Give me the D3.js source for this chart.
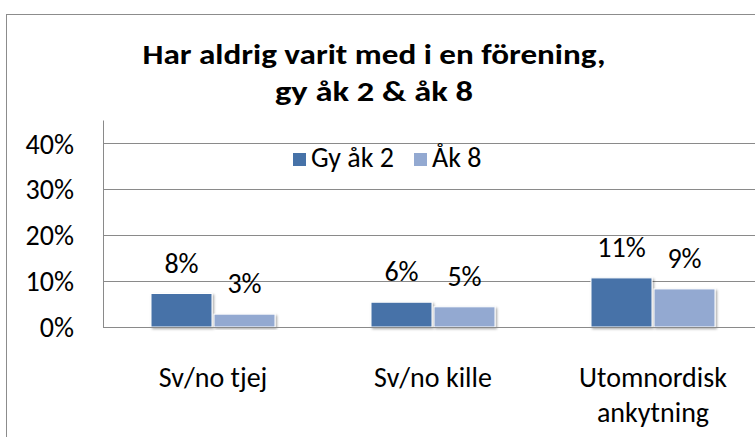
<!DOCTYPE html>
<html>
<head>
<meta charset="utf-8">
<script src="https://cdn.jsdelivr.net/npm/d3@7"></script>
<style>
  body { margin: 0; background: #fff; }
  svg text { font-family: Carlito, Calibri, Lato, sans-serif; fill: #000; }
</style>
</head>
<body>
<svg id="chart"></svg>
<script>
// data
const categories = [["Sv/no tjej"], ["Sv/no kille"], ["Utomnordisk", "ankytning"]]
const seriesNames = ["Gy åk 2", "Åk 8"]
const gyValues = [0.073, 0.054, 0.107]
const ak8Values = [0.028, 0.044, 0.083]
const gyLabels = ["8%", "6%", "11%"]
const ak8Labels = ["3%", "5%", "9%"]
const yTicks = [0, 0.1, 0.2, 0.3, 0.4]
const colors = ["#4672a8", "#93a9d1"]

const width = 755
const height = 437
const fontSize = 28

const svg = d3.select('svg#chart').attr('width', width).attr('height', height)

// outer chart frame (runs off the right/bottom edge)
svg.append('rect')
  .attr('x', 6.5).attr('y', 14.5)
  .attr('width', 800).attr('height', 500)
  .attr('fill', 'none').attr('stroke', '#8c8c8c').attr('stroke-width', 1)

const plot = { left: 103, right: 763, top: 120.5, bottom: 327 }

const x = d3.scaleBand().domain(d3.range(categories.length))
  .range([plot.left, plot.right])
const y = d3.scaleLinear().domain([0, 0.45]).range([plot.bottom, plot.top])

// gridlines
svg.append('g').selectAll('line').data(yTicks.slice(1)).enter().append('line')
  .attr('x1', plot.left).attr('x2', plot.right)
  .attr('y1', d => Math.round(y(d)) + 0.5).attr('y2', d => Math.round(y(d)) + 0.5)
  .attr('stroke', '#8a8a8a').attr('stroke-width', 1)

// y axis labels
svg.append('g').selectAll('text').data(yTicks).enter().append('text')
  .attr('x', 74).attr('y', d => y(d))
  .attr('dy', '0.36em')
  .attr('text-anchor', 'end')
  .style('font-size', fontSize + 'px')
  .text(d => d3.format('.0%')(d))

// shadow for the bars
const defs = svg.append('defs')
const f = defs.append('filter').attr('id', 'shadow').attr('x', '-20%').attr('y', '-20%').attr('width', '140%').attr('height', '140%')
f.append('feDropShadow').attr('dx', 1.5).attr('dy', 1.5).attr('stdDeviation', 1.2)
  .attr('flood-color', '#000').attr('flood-opacity', 0.35)

const barW = 61
const series = [gyValues, ak8Values]
const labels = [gyLabels, ak8Labels]

series.forEach((vals, s) => {
  const g = svg.append('g')
  const bx = i => x(i) + x.bandwidth() / 2 - barW - 1 + s * (barW + 2)
  g.selectAll('rect').data(vals).enter().append('rect')
    .attr('x', (d, i) => bx(i))
    .attr('y', d => y(d))
    .attr('width', barW)
    .attr('height', d => plot.bottom - y(d))
    .attr('fill', colors[s])
    .attr('stroke', '#fff').attr('stroke-width', 1)
    .attr('filter', 'url(#shadow)')
  g.selectAll('text').data(vals).enter().append('text')
    .attr('x', (d, i) => bx(i) + barW / 2)
    .attr('y', d => y(d) - 21)
    .attr('text-anchor', 'middle')
    .style('font-size', fontSize + 'px')
    .text((d, i) => labels[s][i])
})

// axes lines
svg.append('line')
  .attr('x1', plot.left + 0.5).attr('x2', plot.left + 0.5)
  .attr('y1', plot.top).attr('y2', plot.bottom)
  .attr('stroke', '#8a8a8a')
svg.append('line')
  .attr('x1', plot.left).attr('x2', plot.right)
  .attr('y1', plot.bottom + 0.5).attr('y2', plot.bottom + 0.5)
  .attr('stroke', '#8a8a8a')

// category labels
const cat = svg.append('g').selectAll('text').data(categories).enter().append('text')
  .attr('x', (d, i) => x(i) + x.bandwidth() / 2)
  .attr('y', 387)
  .attr('text-anchor', 'middle')
  .style('font-size', fontSize + 'px')
cat.selectAll('tspan').data(d => d).enter().append('tspan')
  .attr('x', function () { return this.parentNode.getAttribute('x') })
  .attr('dy', (d, i) => i === 0 ? 0 : 35)
  .text(d => d)

// legend
const legendX = [293, 414]
seriesNames.forEach((name, s) => {
  svg.append('rect')
    .attr('x', legendX[s]).attr('y', 153)
    .attr('width', 13).attr('height', 13)
    .attr('fill', colors[s])
  svg.append('text')
    .attr('x', legendX[s] + 18).attr('y', 167)
    .style('font-size', fontSize + 'px')
    .text(name)
})

// title
const titleLines = ["Har aldrig varit med i en förening,", "gy åk 2 & åk 8"]
const titleWidths = [463, 198]
svg.append('g').selectAll('text').data(titleLines).enter().append('text')
  .attr('x', 374)
  .attr('y', (d, i) => 63.5 + i * 37)
  .attr('text-anchor', 'middle')
  .attr('textLength', (d, i) => titleWidths[i])
  .attr('lengthAdjust', 'spacingAndGlyphs')
  .style('font-size', '29px')
  .style('font-weight', 'bold')
  .text(d => d)
</script>
</body>
</html>
